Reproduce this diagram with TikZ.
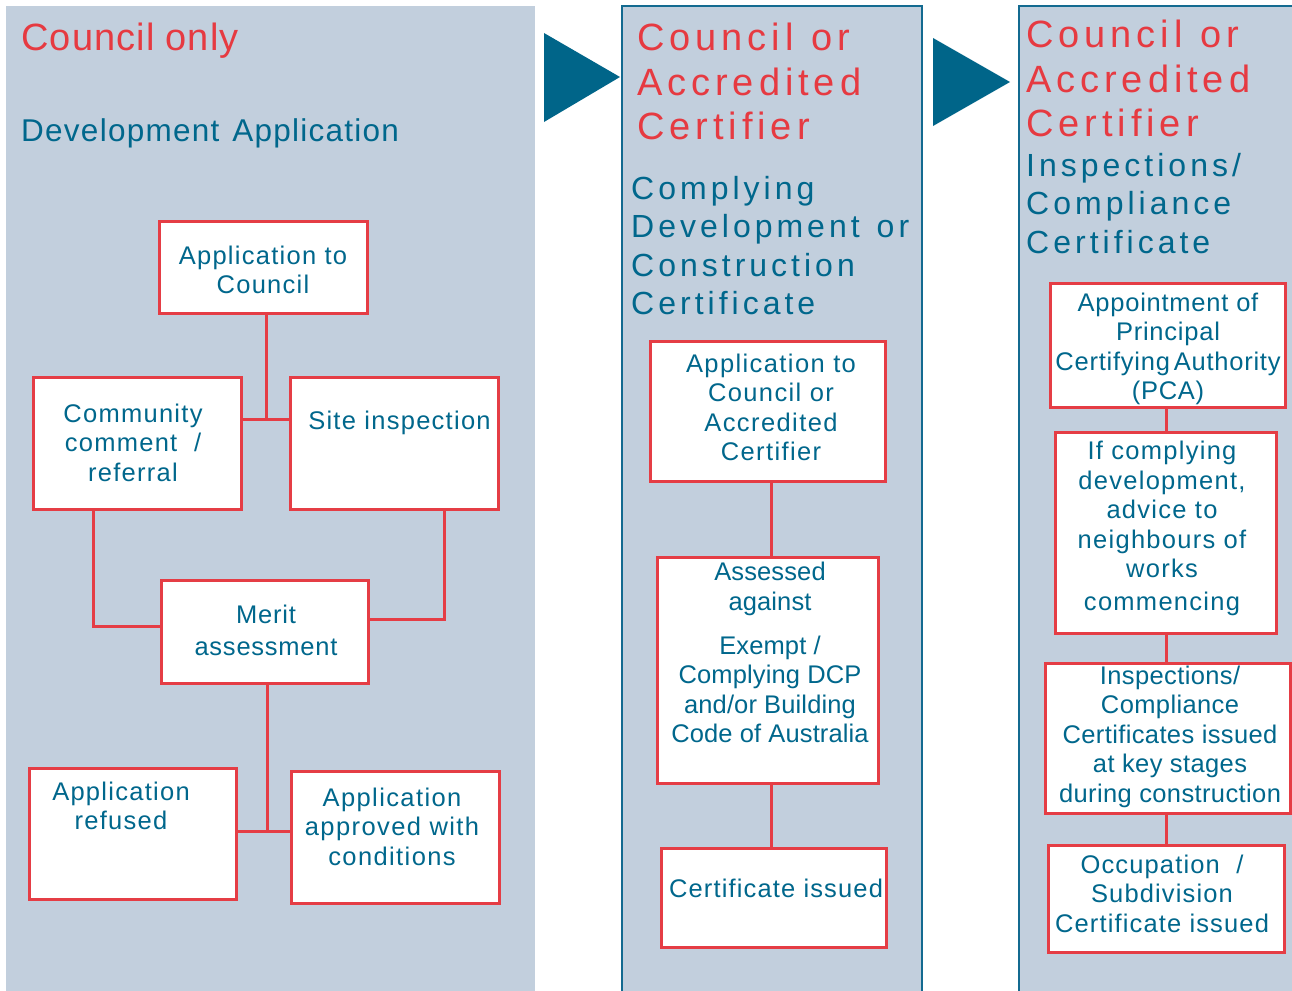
\documentclass[tikz,border=0pt]{standalone}
\usepackage{fontspec}
\setmainfont{Liberation Sans}
\definecolor{panelbg}{HTML}{C2CFDD}
\definecolor{panelline}{HTML}{136A90}
\definecolor{headred}{HTML}{E63A41}
\definecolor{tealtext}{HTML}{00678C}
\definecolor{arrowteal}{HTML}{006589}
\definecolor{boxred}{HTML}{E53D45}
\begin{document}
\begin{tikzpicture}[x=1pt,y=-1pt,
  box/.style={draw=boxred, fill=white, line width=3pt, inner sep=0pt, outer sep=0pt},
  link/.style={draw=boxred, line width=3pt},
  boxtext/.style={text=tealtext, inner sep=0pt, anchor=north, align=center,
    font=\fontsize{25.5}{29.5}\selectfont\addfontfeature{LetterSpace=#1}, execute at begin node=\strut},
  boxtext/.default=5,
  redhead/.style={text=headred, inner sep=0pt, anchor=north west, align=left,
    font=\fontsize{38}{44.5}\selectfont\addfontfeature{LetterSpace=13}, execute at begin node=\strut},
  tealhead/.style={text=tealtext, inner sep=0pt, anchor=north west, align=left,
    font=\fontsize{32}{38.5}\selectfont\addfontfeature{LetterSpace=12.5}, execute at begin node=\strut},
  stagearrow/.style={fill=arrowteal}
]
\useasboundingbox (0,0) rectangle (1292,990);
\fill[white] (0,0) rectangle (1292,990);

% ---- stage panels ----
\fill[panelbg] (6,6) rectangle (535,995);
\filldraw[fill=panelbg, draw=panelline, line width=2.5pt] (622,6) rectangle (922,1000);
\filldraw[fill=panelbg, draw=panelline, line width=2.5pt] (1019,6) rectangle (1310,1000);

% ---- arrows between stages ----
\fill[stagearrow] (544,33) -- (620,77) -- (544,122) -- cycle;
\fill[stagearrow] (933,38) -- (1010,82) -- (933,126) -- cycle;

% ---- stage 1: Development Application ----
\node[text=headred, inner sep=0pt, anchor=base west,
  font=\fontsize{38}{44}\selectfont\addfontfeature{LetterSpace=3}] (h1) at (21,51) {Council\hspace{11pt}only};
\node[text=tealtext, inner sep=0pt, anchor=base west,
  font=\fontsize{31.5}{38}\selectfont\addfontfeature{LetterSpace=4}] (h1b) at (21,141) {Development\hspace{13pt}Application};

\node[box, minimum width=208, minimum height=92]  (appc)     at (263,267)   {};
\node[box, minimum width=208, minimum height=132] (comm)     at (137,443)   {};
\node[box, minimum width=208, minimum height=132] (site)     at (394,443)   {};
\node[box, minimum width=207, minimum height=103] (merit)    at (264.5,631.5) {};
\node[box, minimum width=207, minimum height=131] (refused)  at (132.5,833.5) {};
\node[box, minimum width=208, minimum height=132] (approved) at (395,837)   {};

\node[boxtext]      (appc-t)     at (263,245.5)  {Application to\\Council};
\node[boxtext]      (comm-t)     at (133,403.5)  {Community\\comment\ \ /\\referral};
\node[boxtext]      (site-t)     at (399.5,408.5) {Site inspection};
\node[boxtext=3]    (merit-t)    at (266,604.5)  {Merit\\[2.5pt]assessment};
\node[boxtext]      (refused-t)  at (121,781.5)  {Application\\refused};
\node[boxtext=5.5]  (approved-t) at (392,787.5)  {Application\\approved with\\conditions};

\coordinate (j1) at (266,419);
\coordinate (j2) at (93,626);
\coordinate (j3) at (444,619);
\coordinate (j4) at (267,831);
\draw[link] (appc.south -| j1) -- (j1);
\draw[link] (comm.east |- j1) -- (site.west |- j1);
\draw[link] (comm.south -| j2) -- (j2) -- (merit.west |- j2);
\draw[link] (site.south -| j3) -- (j3) -- (merit.east |- j3);
\draw[link] (merit.south -| j4) -- (j4);
\draw[link] (refused.east |- j4) -- (approved.west |- j4);

% ---- stage 2: Complying Development / Construction Certificate ----
\node[redhead]  (h2)  at (637,23)  {Council\hspace{18pt}or\\Accredited\\Certifier};
\node[tealhead] (h2b) at (631,176) {Complying\\Development\hspace{17pt}or\\Construction\\Certificate};

\node[box, minimum width=235, minimum height=140] (app2)   at (767.5,411)   {};
\node[box, minimum width=221, minimum height=226] (assess) at (767.5,670)   {};
\node[box, minimum width=225, minimum height=99]  (cert)   at (773.5,897.5) {};

\node[boxtext=5.5]  (app2-t)   at (771,353.5) {Application to\\Council or\\Accredited\\Certifier};
\node[boxtext=0.5]  (assess-t) at (770,562)   {Assessed\\against\\[14.5pt]Exempt /\\Complying DCP\\and/or Building\\Code of Australia};
\node[boxtext=4.5]  (cert-t)   at (776,876.5) {Certificate issued};

\coordinate (c2) at (771,500);
\draw[link] (app2.south -| c2) -- (assess.north -| c2);
\draw[link] (assess.south -| c2) -- (cert.north -| c2);

% ---- stage 3: Inspections / Compliance Certificate ----
\node[redhead]  (h3)  at (1026,20)  {Council\hspace{18pt}or\\Accredited\\Certifier};
\node[tealhead] (h3b) at (1026,153) {Inspections/\\Compliance\\Certificate};

\node[box, minimum width=235, minimum height=124] (pca)    at (1167.5,345)   {};
\node[box, minimum width=221, minimum height=201] (advice) at (1165.5,532.5) {};
\node[box, minimum width=245, minimum height=150] (insp)   at (1167.5,738)   {};
\node[box, minimum width=236, minimum height=107] (occ)    at (1166,898.5)   {};

\node[boxtext=3]    (pca-t)    at (1168,292.5) {Appointment of\\Principal\\Certifying\hspace{-4pt} Authority\\(PCA)};
\node[boxtext]      (advice-t) at (1162,441)   {If complying\\development,\\advice to\\neighbours of\\works\\[3.5pt]commencing};
\node[boxtext=1.5]  (insp-t)   at (1170,665.5) {Inspections/\\Compliance\\Certificates issued\\at key stages\\during construction};
\node[boxtext=4.5]  (occ-t)    at (1162,854.5) {Occupation\ \ /\\Subdivision\\Certificate issued};

\coordinate (c3) at (1166,500);
\draw[link] (pca.south -| c3) -- (advice.north -| c3);
\draw[link] (advice.south -| c3) -- (insp.north -| c3);
\draw[link] (insp.south -| c3) -- (occ.north -| c3);
\end{tikzpicture}
\end{document}
